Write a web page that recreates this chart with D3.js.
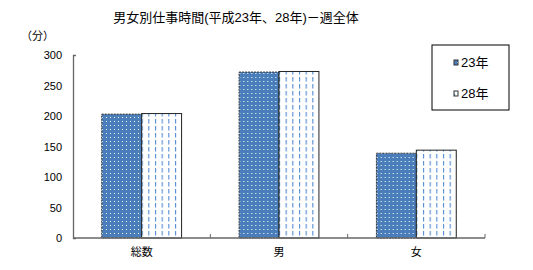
<!DOCTYPE html>
<html>
<head>
<meta charset="utf-8">
<script src="https://cdn.jsdelivr.net/npm/d3@7/dist/d3.min.js"></script>
<style>
  body { margin: 0; background: #fff; }
  text { font-family: "Liberation Sans", "Noto Sans CJK JP", sans-serif; fill: #000; }
</style>
</head>
<body>
<div class="chart"></div>
<script>
var categories = ["総数", "男", "女"];
var seriesNames = ["23年", "28年"];
var values23 = [203, 272, 139];
var values28 = [204, 273, 144];
var yTicks = [0, 50, 100, 150, 200, 250, 300];

var width = 533, height = 270;
var plot = {left: 73, right: 485, top: 55, bottom: 238};

var svg = d3.select("div.chart").append("svg")
    .attr("width", width)
    .attr("height", height);

// patterns for the two series
var defs = svg.append("defs");
var dots = defs.append("pattern")
    .attr("id", "dots")
    .attr("patternUnits", "userSpaceOnUse")
    .attr("width", 4)
    .attr("height", 4);
dots.append("rect").attr("width", 4).attr("height", 4).attr("fill", "#4a7ebb");
dots.append("rect").attr("x", 1).attr("y", 1).attr("width", 1).attr("height", 1).attr("fill", "#fff");

var dashes = defs.append("pattern")
    .attr("id", "dashes")
    .attr("patternUnits", "userSpaceOnUse")
    .attr("width", 6.67)
    .attr("height", 7);
dashes.append("rect").attr("width", 6.67).attr("height", 7).attr("fill", "#fff");
dashes.append("rect").attr("x", 2).attr("y", 0).attr("width", 1).attr("height", 4.5).attr("fill", "#3f7fcf");

var fills = ["url(#dots)", "url(#dashes)"];

var x = d3.scaleBand()
    .domain(categories)
    .range([plot.left, plot.right])
    .paddingInner(0)
    .paddingOuter(0);

var xs = d3.scaleBand()
    .domain(seriesNames)
    .range([0, x.bandwidth()])
    .paddingInner(0)
    .paddingOuter(0.72);

var y = d3.scaleLinear()
    .domain([0, 300])
    .range([plot.bottom, plot.top]);

// title
svg.append("text")
    .attr("x", 236)
    .attr("y", 22)
    .style("text-anchor", "middle")
    .style("font-size", "13px")
    .text("男女別仕事時間(平成23年、28年)－週全体");

svg.append("text")
    .attr("x", 21)
    .attr("y", 40)
    .style("font-size", "11px")
    .text("（分）");

// bars
var data = categories.map(function(c, i) {
  return [{cat: c, s: seriesNames[0], v: values23[i], k: 0},
          {cat: c, s: seriesNames[1], v: values28[i], k: 1}];
});

var groups = svg.selectAll("g.grp")
    .data(data)
    .enter().append("g")
    .attr("class", "grp")
    .attr("transform", function(d) { return "translate(" + x(d[0].cat) + ",0)"; });

groups.selectAll("rect")
    .data(function(d) { return d; })
    .enter().append("rect")
    .attr("x", function(d) { return xs(d.s); })
    .attr("y", function(d) { return y(d.v); })
    .attr("width", xs.bandwidth())
    .attr("height", function(d) { return y(0) - y(d.v); })
    .attr("fill", function(d) { return fills[d.k]; })
    .attr("stroke", function(d) { return d.k == 0 ? "#333" : "#222"; })
    .attr("stroke-width", 1)
    .attr("stroke-dasharray", function(d) { return d.k == 0 ? "2,1" : null; });

// y axis
var yAxis = svg.append("g")
    .attr("transform", "translate(" + plot.left + ",0)")
    .call(d3.axisLeft(y).tickValues(yTicks).tickSizeInner(0).tickSizeOuter(-3).tickPadding(11));
yAxis.select(".domain").attr("stroke", "#666").attr("stroke-width", 1.3);
yAxis.selectAll("text").style("font-size", "11px").attr("dy", "0.35em");

// x axis
svg.append("line")
    .attr("x1", plot.left).attr("x2", plot.right)
    .attr("y1", y(0)).attr("y2", y(0))
    .attr("stroke", "#666").attr("stroke-width", 1.3);

svg.selectAll("line.xtick")
    .data(categories.slice(1).concat(["end"]))
    .enter().append("line")
    .attr("class", "xtick")
    .attr("x1", function(d) { return d == "end" ? plot.right : x(d); })
    .attr("x2", function(d) { return d == "end" ? plot.right : x(d); })
    .attr("y1", y(0)).attr("y2", y(0) - 4)
    .attr("stroke", "#666");

svg.selectAll("text.xlab")
    .data(categories)
    .enter().append("text")
    .attr("class", "xlab")
    .attr("x", function(d) { return x(d) + x.bandwidth() / 2; })
    .attr("y", 256)
    .style("text-anchor", "middle")
    .style("font-size", "11px")
    .text(function(d) { return d; });

// legend
var legend = svg.append("g")
    .attr("class", "legend")
    .attr("transform", "translate(432,45)");

legend.append("rect")
    .attr("width", 77)
    .attr("height", 65)
    .attr("fill", "#fff")
    .attr("stroke", "#000")
    .attr("stroke-width", 1);

seriesNames.forEach(function(s, i) {
  legend.append("rect")
      .attr("x", 22)
      .attr("y", 15 + i * 31)
      .attr("width", 4)
      .attr("height", 5)
      .attr("fill", fills[i])
      .attr("stroke", "#333")
      .attr("stroke-width", 1);
  legend.append("text")
      .attr("x", 29)
      .attr("y", 22 + i * 31)
      .style("font-size", "13px")
      .text(s);
});
</script>
</body>
</html>
